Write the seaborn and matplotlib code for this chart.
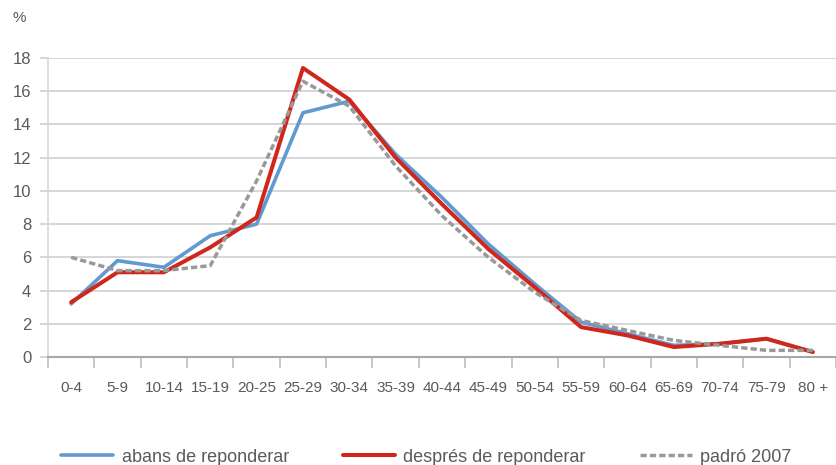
import numpy as np
import pandas as pd
import matplotlib.pyplot as plt
import seaborn as sns
from matplotlib.ticker import FixedLocator

# Age groups and shares (%)
age_groups = ['0-4', '5-9', '10-14', '15-19', '20-25', '25-29', '30-34', '35-39', '40-44',
              '45-49', '50-54', '55-59', '60-64', '65-69', '70-74', '75-79', '80 +']
abans = [3.2, 5.8, 5.4, 7.3, 8.0, 14.7, 15.4, 12.2, 9.6, 6.8, 4.4, 2.1, 1.4, 0.7, 0.8, 1.1, 0.3]
despres = [3.3, 5.1, 5.1, 6.6, 8.4, 17.4, 15.5, 12.0, 9.2, 6.5, 4.2, 1.8, 1.3, 0.6, 0.8, 1.1, 0.3]
padro = [6.0, 5.2, 5.2, 5.5, 10.6, 16.6, 15.1, 11.5, 8.5, 6.0, 3.9, 2.2, 1.6, 1.0, 0.7, 0.4, 0.4]

series_names = ['abans de reponderar', 'després de reponderar', 'padró 2007']

df = pd.DataFrame({'edat': age_groups, 'abans': abans, 'despres': despres, 'padro': padro})

sns.set_style('white')
plt.rcParams['font.family'] = ['Liberation Sans', 'DejaVu Sans']

fig = plt.figure(figsize=(8.37, 4.65), dpi=100)
ax = fig.add_axes([48 / 837, 1 - 357 / 465, 788 / 837, (357 - 58) / 465])

# horizontal gridlines
ax.set_axisbelow(True)
ax.grid(axis='y', color='#cfcfcf', linewidth=1.2)

sns.lineplot(data=df, x='edat', y='abans', ax=ax, color='#6199d1', linewidth=2.6,
             sort=False, label=series_names[0])
sns.lineplot(data=df, x='edat', y='despres', ax=ax, color='#d0271d', linewidth=2.9,
             sort=False, label=series_names[1])
sns.lineplot(data=df, x='edat', y='padro', ax=ax, color='#999999', linewidth=2.5,
             sort=False, label=series_names[2], dashes=False)
ax.get_lines()[-1].set_dashes((1.8, 0.9))

ax.set_xlim(-0.5, len(age_groups) - 0.5)
ax.set_ylim(0, 18)
ax.set_yticks(np.arange(0, 19, 2))
ax.set_xlabel('')
ax.set_ylabel('')

ax.tick_params(axis='y', labelsize=12, labelcolor='#5a5a5a', length=6, color='#cfcfcf',
               width=1.2, pad=6, left=True)
ax.tick_params(axis='x', which='major', labelsize=11, labelcolor='#5a5a5a', length=0, pad=17)
ax.xaxis.set_minor_locator(FixedLocator(np.arange(-0.5, len(age_groups), 1)))
ax.tick_params(axis='x', which='minor', length=8, color='#bdbdbd', width=1.2, bottom=True)

for s in ['top', 'right']:
    ax.spines[s].set_visible(False)
ax.spines['left'].set_color('#d9d9d9')
ax.spines['left'].set_linewidth(1.2)
ax.spines['bottom'].set_color('#a8a8a8')
ax.spines['bottom'].set_linewidth(1.5)

fig.text(13 / 837, 1 - 18 / 465, '%', fontsize=11, color='#5a5a5a', va='center')

ax.legend_.remove()
handles, labels = ax.get_legend_handles_labels()
fig.legend(handles, labels, loc='center left', bbox_to_anchor=(52 / 837, 1 - 457 / 465),
           ncol=3, frameon=False, fontsize=13, handlelength=2.9, handletextpad=0.45,
           columnspacing=3.0, borderpad=0, labelcolor='#5a5a5a')

fig.savefig('out.png', dpi=100)
